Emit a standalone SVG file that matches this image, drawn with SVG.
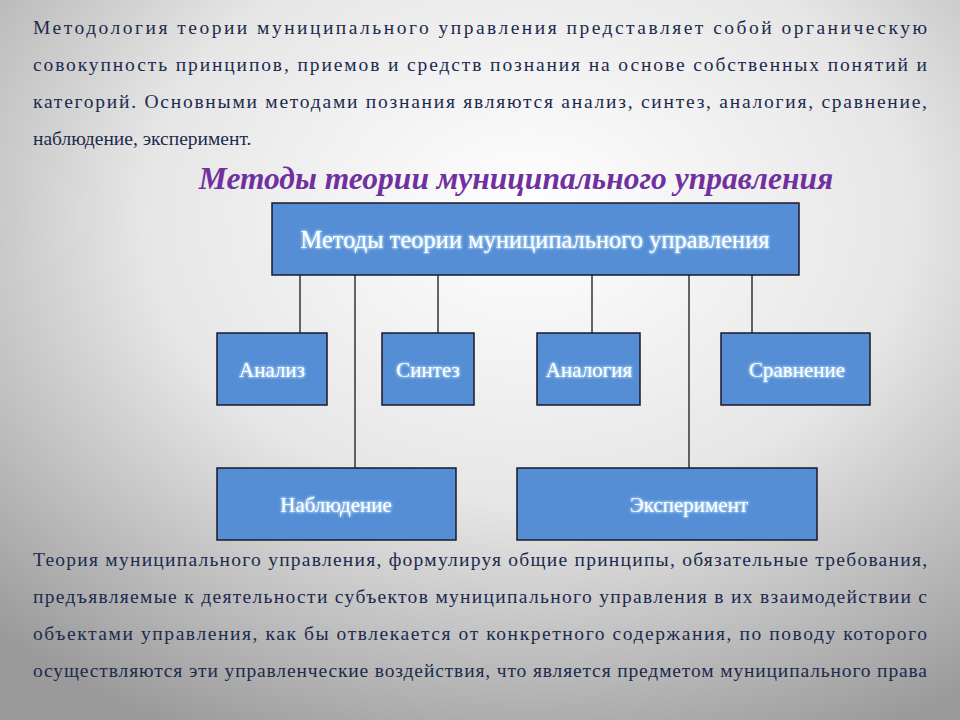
<svg xmlns="http://www.w3.org/2000/svg" width="960" height="720" viewBox="0 0 960 720">
<defs>
<radialGradient id="bg" cx="0.55" cy="0.3" r="0.8">
<stop offset="0" stop-color="#ffffff"/><stop offset="0.5" stop-color="#e6e6e6"/><stop offset="1" stop-color="#9a9a9a"/>
</radialGradient>
<filter id="glow" x="-20%" y="-50%" width="140%" height="200%">
<feGaussianBlur in="SourceAlpha" stdDeviation="2"/><feFlood flood-color="#bfe3ff"/><feComposite operator="in" in2="SourceAlpha"/><feGaussianBlur stdDeviation="1.5"/>
<feMerge><feMergeNode/><feMergeNode/><feMergeNode in="SourceGraphic"/></feMerge>
</filter>
</defs>
<style>
.p{font-family:"Liberation Serif",serif;font-size:19.5px;fill:#1c2a4e}
.b{fill:#558ed5;stroke:#1a1a2a;stroke-width:1.5}
.t{font-family:"Liberation Serif",serif;fill:#ffffff;text-anchor:middle;filter:url(#glow)}
.c line{stroke:#333;stroke-width:1.5}
</style>
<rect width="960" height="720" fill="url(#bg)"/>
<text class="p" x="33" y="34" textLength="894" lengthAdjust="spacing">Методология теории муниципального управления представляет собой органическую</text>
<text class="p" x="33" y="71" textLength="894" lengthAdjust="spacing">совокупность принципов, приемов и средств познания на основе собственных понятий и</text>
<text class="p" x="33" y="108" textLength="894" lengthAdjust="spacing">категорий. Основными методами познания являются анализ, синтез, аналогия, сравнение,</text>
<text class="p" x="33" y="145">наблюдение, эксперимент.</text>
<text x="516" y="189" font-family="Liberation Serif,serif" font-size="31.5" font-weight="bold" font-style="italic" fill="#7030a0" text-anchor="middle">Методы теории муниципального управления</text>
<g class="c" id="connectors">
<line x1="300" y1="275" x2="300" y2="333"/>
<line x1="355" y1="275" x2="355" y2="468"/>
<line x1="438" y1="275" x2="438" y2="333"/>
<line x1="592" y1="275" x2="592" y2="333"/>
<line x1="689" y1="275" x2="689" y2="468"/>
<line x1="752" y1="275" x2="752" y2="333"/>
</g>
<g id="root"><rect class="b" x="272" y="203" width="527" height="72"/><text class="t" x="535" y="248" font-size="24.5">Методы теории муниципального управления</text></g>
<g id="analiz"><rect class="b" x="217" y="333" width="110" height="72"/><text class="t" x="272" y="377" font-size="21">Анализ</text></g>
<g id="sintez"><rect class="b" x="382" y="333" width="92" height="72"/><text class="t" x="428" y="377" font-size="21">Синтез</text></g>
<g id="analogiya"><rect class="b" x="537" y="333" width="103" height="72"/><text class="t" x="589" y="377" font-size="21">Аналогия</text></g>
<g id="sravnenie"><rect class="b" x="721" y="333" width="149" height="72"/><text class="t" x="797" y="377" font-size="21">Сравнение</text></g>
<g id="nablyudenie"><rect class="b" x="217" y="468" width="239" height="72"/><text class="t" x="336" y="512" font-size="21">Наблюдение</text></g>
<g id="eksperiment"><rect class="b" x="517" y="468" width="300" height="72"/><text class="t" x="689" y="512" font-size="21">Эксперимент</text></g>
<text class="p" x="33" y="566" textLength="894" lengthAdjust="spacing">Теория муниципального управления, формулируя общие принципы, обязательные требования,</text>
<text class="p" x="33" y="603" textLength="894" lengthAdjust="spacing">предъявляемые к деятельности субъектов муниципального управления в их взаимодействии с</text>
<text class="p" x="33" y="640" textLength="894" lengthAdjust="spacing">объектами управления, как бы отвлекается от конкретного содержания, по поводу которого</text>
<text class="p" x="33" y="677" textLength="894" lengthAdjust="spacing">осуществляются эти управленческие воздействия, что является предметом муниципального права</text>
</svg>
